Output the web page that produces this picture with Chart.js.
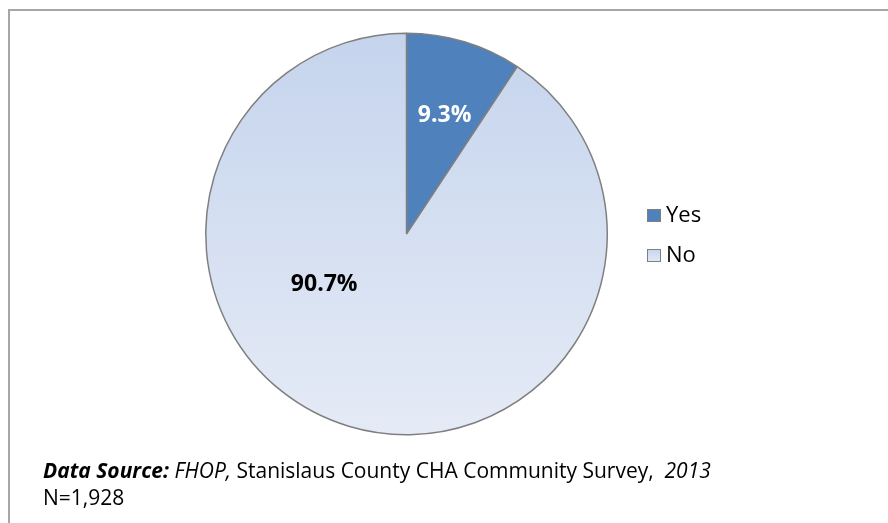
<!DOCTYPE html>
<html>
<head>
<meta charset="utf-8">
<script src="https://cdn.jsdelivr.net/npm/chart.js@4.4.1/dist/chart.umd.min.js"></script>
<style>
  html, body { margin: 0; padding: 0; background: #fff; }
  #wrap { position: relative; width: 888px; height: 523px; }
</style>
</head>
<body>
<div id="wrap"><canvas id="pie" width="888" height="523"></canvas></div>
<script>
const categories = ['Yes', 'No'];
const percents = [9.3, 90.7];
const sliceColors = ['#4F81BD', null]; // null -> gradient fill
const sourceNote = 'N=1,928';

const FONT = '"Open Sans", "Noto Sans", sans-serif';

function noFill(ctx) {
    const area = ctx.chart.chartArea;
    if (!area) return '#D6E0F1';
    const g = ctx.chart.ctx.createLinearGradient(0, area.top, 0, area.bottom);
    g.addColorStop(0, '#C5D4ED');
    g.addColorStop(1, '#E5EBF6');
    return g;
}

// frame, legend, value labels and the source line
const decor = {
    id: 'decor',
    beforeDraw(chart) {
        const c = chart.ctx;
        c.save();
        c.fillStyle = '#fff';
        c.fillRect(0, 0, chart.width, chart.height);
        c.strokeStyle = '#A6A6A6';
        c.lineWidth = 2;
        c.beginPath();
        c.moveTo(9, 530);
        c.lineTo(9, 10);
        c.lineTo(900, 10);
        c.stroke();
        c.restore();
    },
    afterDraw(chart) {
        const c = chart.ctx;
        const arcs = chart.getDatasetMeta(0).data;
        const cx = arcs[0].x, cy = arcs[0].y, r = arcs[0].outerRadius;
        c.save();

        // value labels
        const anchors = [[0.19, -0.59], [-0.41, 0.25]];
        const labelColors = ['#FFFFFF', '#000000'];
        c.font = 'bold 23px ' + FONT;
        c.textAlign = 'center';
        c.textBaseline = 'middle';
        percents.forEach((v, i) => {
            c.fillStyle = labelColors[i];
            c.fillText(v.toFixed(1) + '%', cx + anchors[i][0] * r, cy + anchors[i][1] * r);
        });

        // legend
        c.font = '22px ' + FONT;
        c.textAlign = 'left';
        categories.forEach((name, i) => {
            const y = 216 + i * 40;
            const fill = sliceColors[i] || (() => {
                const g = c.createLinearGradient(0, y - 7, 0, y + 7);
                g.addColorStop(0, '#C5D4ED');
                g.addColorStop(1, '#E5EBF6');
                return g;
            })();
            c.fillStyle = fill;
            c.fillRect(647, y - 7, 14, 13);
            c.strokeStyle = '#7F7F7F';
            c.lineWidth = 1;
            c.strokeRect(647.5, y - 6.5, 13, 12);
            c.fillStyle = '#000';
            c.fillText(name, 666, y);
        });

        // source line
        c.textBaseline = 'alphabetic';
        const parts = [
            ['italic bold 21px ', 'Data Source:'],
            ['italic 21px ', ' FHOP,'],
            ['21px ', ' Stanislaus County CHA Community Survey,  '],
            ['italic 21px ', '2013']
        ];
        let x = 43;
        parts.forEach(([f, t]) => {
            c.font = f + FONT;
            c.fillText(t, x, 478);
            x += c.measureText(t).width;
        });
        c.font = '21px ' + FONT;
        c.fillText(sourceNote, 43, 505);
        c.restore();
    }
};

new Chart(document.getElementById('pie'), {
    type: 'pie',
    data: {
        labels: categories,
        datasets: [{
            data: percents,
            backgroundColor: ctx => sliceColors[ctx.dataIndex] || noFill(ctx),
            borderColor: '#7F7F7F',
            borderWidth: 1.5
        }]
    },
    options: {
        responsive: false,
        animation: false,
        layout: { padding: { top: 32, bottom: 87, left: 205, right: 280 } },
        plugins: {
            legend: { display: false },
            tooltip: { enabled: false }
        }
    },
    plugins: [decor]
});
</script>
</body>
</html>
